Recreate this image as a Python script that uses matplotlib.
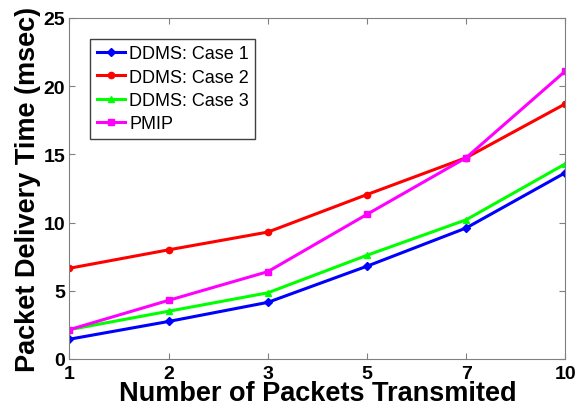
import numpy as np
import matplotlib.pyplot as plt

plt.rcParams["font.family"] = ["Liberation Sans", "DejaVu Sans"]

packets = ["1", "2", "3", "5", "7", "10"]
case1 = [1.45, 2.75, 4.15, 6.8, 9.6, 13.65]
case2 = [6.65, 8.0, 9.3, 12.05, 14.75, 18.7]
case3 = [2.15, 3.5, 4.85, 7.6, 10.2, 14.3]
pmip = [2.15, 4.3, 6.4, 10.6, 14.75, 21.1]

x = np.arange(len(packets))

fig = plt.figure(figsize=(5.84, 4.10), dpi=100)
ax = fig.add_axes([0.119, 0.122, 0.849, 0.832])

ax.plot(x, case1, color="#0000ff", marker="D", markersize=4, lw=2.2, label="DDMS: Case 1")
ax.plot(x, case2, color="#ff0000", marker="o", markersize=4.5, lw=2.2, label="DDMS: Case 2")
ax.plot(x, case3, color="#00ff00", marker="^", markersize=5, lw=2.2, label="DDMS: Case 3")
ax.plot(x, pmip, color="#ff00ff", marker="s", markersize=5, lw=2.2, label="PMIP")

ax.set_xlim(0, len(packets) - 1)
ax.set_ylim(0, 25)
ax.set_xticks(x)
ax.set_xticklabels(packets)
ax.set_yticks([0, 5, 10, 15, 20, 25])
ax.tick_params(direction="in", top=True, right=True, length=4, color="#808080",
               labelsize=14)
ax.tick_params(axis="x", pad=4)
ax.tick_params(axis="y", pad=3)
for lab in ax.get_xticklabels() + ax.get_yticklabels():
    lab.set_fontweight("bold")
for s in ax.spines.values():
    s.set_color("#808080")

ax.set_xlabel("Number of Packets Transmited", fontsize=19.5, fontweight="bold", labelpad=-1)
ax.set_ylabel("Packet Delivery Time (msec)", fontsize=19.5, fontweight="bold", labelpad=2)

leg = ax.legend(loc="upper left", bbox_to_anchor=(0.042, 0.938), borderaxespad=0,
                fontsize=13, fancybox=False, framealpha=1, handlelength=1.55,
                handletextpad=0.25, borderpad=0.35, labelspacing=0.35)
leg.get_frame().set_edgecolor("#404040")
leg.get_frame().set_linewidth(1.0)

fig.savefig("out.png", dpi=100)
